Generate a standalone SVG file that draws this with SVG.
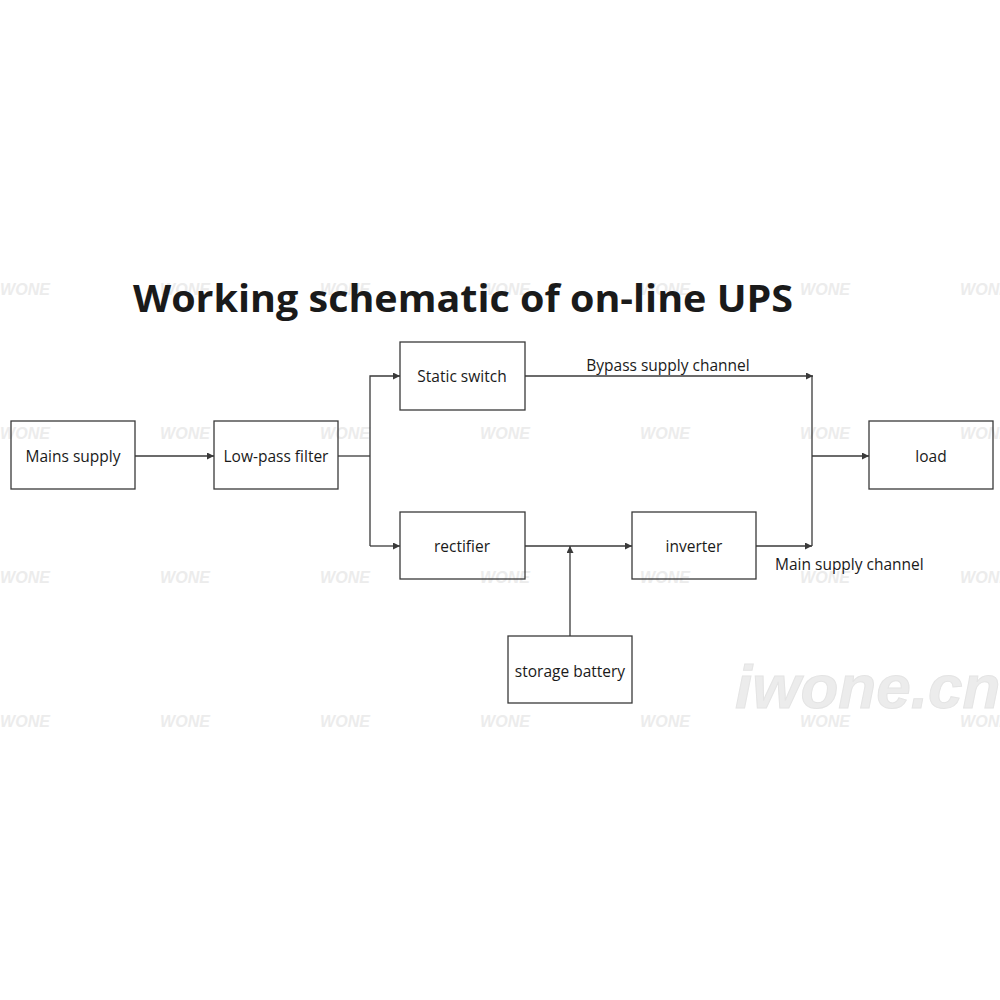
<svg xmlns="http://www.w3.org/2000/svg" width="1000" height="1000" viewBox="0 0 1000 1000">
<style>
.box{fill:none;stroke:#3a3a3a;stroke-width:1.3}
.lbl{font-family:"Open Sans","Noto Sans","Liberation Sans",sans-serif;font-size:15.5px;fill:#1a1a1a;text-anchor:middle}
.cap{font-family:"Open Sans","Noto Sans","Liberation Sans",sans-serif;font-size:15.5px;fill:#1a1a1a}
.wire{fill:none;stroke:#3a3a3a;stroke-width:1.3}
.wm{font-family:"Liberation Sans",Arial,sans-serif;font-weight:bold;font-style:italic;font-size:16px;fill:#ececec;text-anchor:middle}
</style>
<defs>
<marker id="arr" viewBox="0 0 10 10" refX="10" refY="5" markerWidth="7" markerHeight="7" markerUnits="userSpaceOnUse" orient="auto">
<path d="M0,0 L10,5 L0,10 z" fill="#3a3a3a"/>
</marker>
</defs>
<rect width="1000" height="1000" fill="#fff"/>
<g id="watermarks">
<text class="wm" x="25" y="295">WONE</text><text class="wm" x="185" y="295">WONE</text><text class="wm" x="345" y="295">WONE</text><text class="wm" x="505" y="295">WONE</text><text class="wm" x="665" y="295">WONE</text><text class="wm" x="825" y="295">WONE</text><text class="wm" x="985" y="295">WONE</text>
<text class="wm" x="25" y="439">WONE</text><text class="wm" x="185" y="439">WONE</text><text class="wm" x="345" y="439">WONE</text><text class="wm" x="505" y="439">WONE</text><text class="wm" x="665" y="439">WONE</text><text class="wm" x="825" y="439">WONE</text><text class="wm" x="985" y="439">WONE</text>
<text class="wm" x="25" y="583">WONE</text><text class="wm" x="185" y="583">WONE</text><text class="wm" x="345" y="583">WONE</text><text class="wm" x="505" y="583">WONE</text><text class="wm" x="665" y="583">WONE</text><text class="wm" x="825" y="583">WONE</text><text class="wm" x="985" y="583">WONE</text>
<text class="wm" x="25" y="727">WONE</text><text class="wm" x="185" y="727">WONE</text><text class="wm" x="345" y="727">WONE</text><text class="wm" x="505" y="727">WONE</text><text class="wm" x="665" y="727">WONE</text><text class="wm" x="825" y="727">WONE</text><text class="wm" x="985" y="727">WONE</text>
<text x="735" y="708" font-family="Liberation Sans,Arial,sans-serif" font-weight="bold" font-style="italic" font-size="62" fill="#ececec" stroke="#e4e4e4" stroke-width="1">iwone.cn</text>
</g>
<text id="title" x="463" y="312" text-anchor="middle" font-family="'Open Sans','Noto Sans','Liberation Sans',sans-serif" font-weight="bold" font-size="38" fill="#1a1a1a" textLength="660" lengthAdjust="spacingAndGlyphs">Working schematic of on-line UPS</text>
<g id="connectors">
<path class="wire" d="M135,456 H214" marker-end="url(#arr)"/>
<path class="wire" d="M338,456 H370"/>
<path class="wire" d="M370,546 V376 H400" marker-end="url(#arr)"/>
<path class="wire" d="M370,546 H400" marker-end="url(#arr)"/>
<path class="wire" d="M525,376 H813" marker-end="url(#arr)"/>
<path class="wire" d="M812,376 V546"/>
<path class="wire" d="M812,456 H869" marker-end="url(#arr)"/>
<path class="wire" d="M525,546 H632" marker-end="url(#arr)"/>
<path class="wire" d="M570,636 V546" marker-end="url(#arr)"/>
<path class="wire" d="M756,546 H812" marker-end="url(#arr)"/>
<text class="cap" x="668" y="371" text-anchor="middle">Bypass supply channel</text>
<text class="cap" x="775" y="570">Main supply channel</text>
</g>
<g id="mains"><rect class="box" x="11" y="421" width="124" height="68"/><text class="lbl" x="73" y="462">Mains supply</text></g>
<g id="lowpass"><rect class="box" x="214" y="421" width="124" height="68"/><text class="lbl" x="276" y="462">Low-pass filter</text></g>
<g id="static"><rect class="box" x="400" y="342" width="125" height="68"/><text class="lbl" x="462" y="382">Static switch</text></g>
<g id="rectifier"><rect class="box" x="400" y="512" width="125" height="67"/><text class="lbl" x="462" y="552">rectifier</text></g>
<g id="inverter"><rect class="box" x="632" y="512" width="124" height="67"/><text class="lbl" x="694" y="552">inverter</text></g>
<g id="battery"><rect class="box" x="508" y="636" width="124" height="67"/><text class="lbl" x="570" y="677">storage battery</text></g>
<g id="load"><rect class="box" x="869" y="421" width="124" height="68"/><text class="lbl" x="931" y="462">load</text></g>
</svg>
